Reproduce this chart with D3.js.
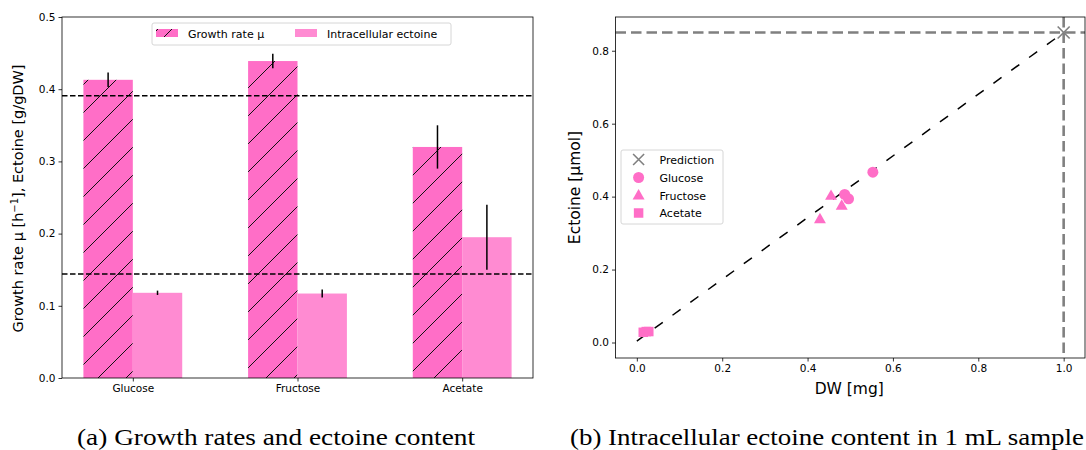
<!DOCTYPE html>
<html>
<head>
<meta charset="utf-8">
<script src="https://cdn.jsdelivr.net/npm/d3@7"></script>
<style>
  body { margin: 0; background: white; }
  svg { display: block; }
  text { font-family: "DejaVu Sans", sans-serif; fill: #000; }
</style>
</head>
<body>
<script>
// data - panel a
const categories = ["Glucose", "Fructose", "Acetate"]
const growthRate = [0.413, 0.439, 0.320]
const growthErr = [0.010, 0.010, 0.030]
const ectoine = [0.118, 0.117, 0.195]
const ectoineErr = [0.003, 0.0055, 0.045]
const refLines = [0.391, 0.144]
const yTicksA = [0.0, 0.1, 0.2, 0.3, 0.4, 0.5]

// data - panel b
const glucoseDW = [0.487, 0.496, 0.553]
const glucoseEct = [0.406, 0.394, 0.467]
const fructoseDW = [0.455, 0.480, 0.429]
const fructoseEct = [0.402, 0.375, 0.338]
const acetateDW = [0.015, 0.022, 0.028]
const acetateEct = [0.028, 0.030, 0.030]
const prediction = [1.0, 0.85]
const fitX = [0.0, 1.0]
const fitY = [0.004, 0.850]
const xTicksB = [0.0, 0.2, 0.4, 0.6, 0.8, 1.0]
const yTicksB = [0.0, 0.2, 0.4, 0.6, 0.8]

const pink = "#ff6ec7"
const pinkLight = "#ff8bd2"

const w = 1086
const h = 450
const svg = d3.select("body").append("svg")
              .attr("width", w)
              .attr("height", h)

// hatch pattern for growth bars
const defs = svg.append("defs")
const hs = 28
const hp = defs.append("pattern")
               .attr("id", "hatch")
               .attr("patternUnits", "userSpaceOnUse")
               .attr("width", hs)
               .attr("height", hs)
hp.append("rect").attr("width", hs).attr("height", hs).attr("fill", pink)
;[[0, hs, hs, 0], [-7, 7, 7, -7], [hs - 7, hs + 7, hs + 7, hs - 7]].forEach(l => {
  hp.append("line")
    .attr("x1", l[0]).attr("y1", l[1]).attr("x2", l[2]).attr("y2", l[3])
    .attr("stroke", "#111").attr("stroke-width", 1)
})
const hpL = defs.append("pattern")
               .attr("id", "hatchLeg")
               .attr("patternUnits", "userSpaceOnUse")
               .attr("width", 14)
               .attr("height", 14)
               .attr("x", 3)
               .attr("y", 2)
hpL.append("rect").attr("width", 14).attr("height", 14).attr("fill", pink)
hpL.append("line").attr("x1", 0).attr("y1", 14).attr("x2", 14).attr("y2", 0)
   .attr("stroke", "#111").attr("stroke-width", 1)

// ---------- panel a ----------
const A = {l: 62, r: 533, t: 17, b: 378}
const xA = d3.scaleLinear().domain([-0.43, 2.43]).range([A.l, A.r])
const yA = d3.scaleLinear().domain([0, 0.5]).range([A.b, A.t])
const bw = 0.3
const ga = svg.append("g")

ga.selectAll("rect.growth")
  .data(growthRate)
  .enter()
  .append("rect")
  .attr("class", "growth")
  .attr("x", (d, i) => xA(i - bw))
  .attr("y", d => yA(d))
  .attr("width", xA(bw) - xA(0))
  .attr("height", d => yA(0) - yA(d))
  .attr("fill", "url(#hatch)")

ga.selectAll("rect.ect")
  .data(ectoine)
  .enter()
  .append("rect")
  .attr("class", "ect")
  .attr("x", (d, i) => xA(i))
  .attr("y", d => yA(d))
  .attr("width", xA(bw) - xA(0))
  .attr("height", d => yA(0) - yA(d))
  .attr("fill", pinkLight)

// error bars
growthRate.forEach((d, i) => {
  ga.append("line")
    .attr("x1", xA(i - bw / 2)).attr("x2", xA(i - bw / 2))
    .attr("y1", yA(d - growthErr[i])).attr("y2", yA(d + growthErr[i]))
    .attr("stroke", "#000").attr("stroke-width", 1.5)
})
ectoine.forEach((d, i) => {
  ga.append("line")
    .attr("x1", xA(i + bw / 2)).attr("x2", xA(i + bw / 2))
    .attr("y1", yA(d - ectoineErr[i])).attr("y2", yA(d + ectoineErr[i]))
    .attr("stroke", "#000").attr("stroke-width", 1.5)
})

// reference lines
refLines.forEach(v => {
  ga.append("line")
    .attr("x1", A.l).attr("x2", A.r)
    .attr("y1", yA(v)).attr("y2", yA(v))
    .attr("stroke", "#000").attr("stroke-width", 1.4)
    .attr("stroke-dasharray", "5.5,2.5")
})

const xAxisA = d3.axisBottom(xA).tickValues([0, 1, 2])
                 .tickFormat(i => categories[i]).tickSizeInner(3.5).tickSizeOuter(0).tickPadding(3)
const yAxisA = d3.axisLeft(yA).tickValues(yTicksA)
                 .tickFormat(d3.format(".1f")).tickSizeInner(3.5).tickSizeOuter(0).tickPadding(3)
ga.append("g").attr("transform", "translate(0," + A.b + ")").call(xAxisA)
ga.append("g").attr("transform", "translate(" + A.l + ",0)").call(yAxisA)
ga.append("rect").attr("x", A.l).attr("y", A.t).attr("width", A.r - A.l).attr("height", A.b - A.t)
  .attr("fill", "none").attr("stroke", "#000").attr("stroke-width", 0.8)

ga.append("text")
  .attr("transform", "translate(23," + ((A.t + A.b) / 2 + 1) + ") rotate(-90)")
  .attr("text-anchor", "middle")
  .attr("font-size", 14.5)
  .html("Growth rate µ [h<tspan dy='-5' font-size='10'>−1</tspan><tspan dy='5'>], Ectoine [g/gDW]</tspan>")

// legend a
const la = ga.append("g")
la.append("rect").attr("x", 152).attr("y", 23).attr("width", 299).attr("height", 22).attr("rx", 2)
  .attr("fill", "white").attr("fill-opacity", 0.8).attr("stroke", "#d6d6d6")
la.append("rect").attr("x", 156).attr("y", 29).attr("width", 22).attr("height", 8).attr("fill", "url(#hatchLeg)")
la.append("text").attr("x", 188).attr("y", 37.5).attr("font-size", 11).text("Growth rate µ")
la.append("rect").attr("x", 295).attr("y", 29).attr("width", 22).attr("height", 8).attr("fill", pinkLight)
la.append("text").attr("x", 327).attr("y", 37.5).attr("font-size", 11).text("Intracellular ectoine")

// ---------- panel b ----------
const B = {l: 615.5, r: 1085, t: 17, b: 358}
const xB = d3.scaleLinear().domain([-0.05, 1.05]).range([B.l, B.r])
const yB = d3.scaleLinear().domain([-0.0425, 0.8925]).range([B.b, B.t])
const gb = svg.append("g")

// prediction guide lines
gb.append("line").attr("x1", B.l).attr("x2", B.r).attr("y1", yB(prediction[1])).attr("y2", yB(prediction[1]))
  .attr("stroke", "#808080").attr("stroke-width", 2.6).attr("stroke-dasharray", "10.5,5")
gb.append("line").attr("x1", xB(prediction[0])).attr("x2", xB(prediction[0])).attr("y1", B.t).attr("y2", B.b)
  .attr("stroke", "#808080").attr("stroke-width", 2.6).attr("stroke-dasharray", "10.5,5")

// fit line
gb.append("line")
  .attr("x1", xB(fitX[0])).attr("y1", yB(fitY[0]))
  .attr("x2", xB(fitX[1])).attr("y2", yB(fitY[1]))
  .attr("stroke", "#000").attr("stroke-width", 1.5).attr("stroke-dasharray", "10,12")

const sym = {
  circle: d3.symbol().type(d3.symbolCircle).size(95),
  tri: d3.symbol().type(d3.symbolTriangle).size(62),
  square: d3.symbol().type(d3.symbolSquare).size(90)
}
const series = [
  {x: glucoseDW, y: glucoseEct, s: sym.circle, dy: 0},
  {x: fructoseDW, y: fructoseEct, s: sym.tri, dy: 0.5},
  {x: acetateDW, y: acetateEct, s: sym.square, dy: 0}
]
series.forEach(sr => {
  gb.selectAll(null)
    .data(sr.x)
    .enter()
    .append("path")
    .attr("d", sr.s)
    .attr("transform", (d, i) => "translate(" + xB(d) + "," + (yB(sr.y[i]) + sr.dy) + ")")
    .attr("fill", pink)
})

// prediction marker
const cross = (g, cx, cy, r) => {
  g.append("path")
   .attr("d", `M${cx - r},${cy - r}L${cx + r},${cy + r}M${cx - r},${cy + r}L${cx + r},${cy - r}`)
   .attr("stroke", "#808080").attr("stroke-width", 1.6).attr("fill", "none")
}
cross(gb, xB(prediction[0]), yB(prediction[1]), 6)

const xAxisB = d3.axisBottom(xB).tickValues(xTicksB)
                 .tickFormat(d3.format(".1f")).tickSizeInner(3.5).tickSizeOuter(0).tickPadding(3)
const yAxisB = d3.axisLeft(yB).tickValues(yTicksB)
                 .tickFormat(d3.format(".1f")).tickSizeInner(3.5).tickSizeOuter(0).tickPadding(3)
gb.append("g").attr("transform", "translate(0," + B.b + ")").call(xAxisB)
gb.append("g").attr("transform", "translate(" + B.l + ",0)").call(yAxisB)
gb.append("rect").attr("x", B.l).attr("y", B.t).attr("width", B.r - B.l).attr("height", B.b - B.t)
  .attr("fill", "none").attr("stroke", "#000").attr("stroke-width", 0.8)

gb.append("text")
  .attr("transform", "translate(580," + ((B.t + B.b) / 2) + ") rotate(-90)")
  .attr("text-anchor", "middle")
  .attr("font-size", 15.5)
  .text("Ectoine [µmol]")
gb.append("text")
  .attr("x", (B.l + B.r) / 2 - 1)
  .attr("y", 394)
  .attr("text-anchor", "middle")
  .attr("font-size", 15.5)
  .text("DW [mg]")

// legend b
const lb = gb.append("g")
lb.append("rect").attr("x", 621).attr("y", 150).attr("width", 102).attr("height", 74).attr("rx", 2)
  .attr("fill", "white").attr("fill-opacity", 0.8).attr("stroke", "#d6d6d6")
const legB = ["Prediction", "Glucose", "Fructose", "Acetate"]
const legY = [159.5, 177.5, 195.5, 213]
cross(lb, 638.6, legY[0], 5.5)
lb.append("path").attr("d", sym.circle).attr("transform", "translate(638.6," + legY[1] + ")").attr("fill", pink)
lb.append("path").attr("d", sym.tri).attr("transform", "translate(638.6," + (legY[2] + 0.5) + ")").attr("fill", pink)
lb.append("path").attr("d", sym.square).attr("transform", "translate(638.6," + legY[3] + ")").attr("fill", pink)
legB.forEach((t, i) => {
  lb.append("text").attr("x", 659.5).attr("y", legY[i] + 4).attr("font-size", 11).text(t)
})

svg.selectAll(".tick text").attr("font-size", 10.5).attr("font-family", "DejaVu Sans").attr("fill", "#000")
svg.selectAll(".domain").remove()
svg.selectAll(".tick line").attr("stroke", "#000").attr("stroke-width", 0.8)

// captions
const caps = [
  {t: "(a) Growth rates and ectoine content", x: 276, wdt: 398},
  {t: "(b) Intracellular ectoine content in 1 mL sample", x: 827, wdt: 514}
]
caps.forEach(c => {
  svg.append("text")
    .attr("x", c.x).attr("y", 445)
    .attr("text-anchor", "middle")
    .style("font-family", "'Liberation Serif', serif")
    .attr("font-size", 23.5)
    .attr("textLength", c.wdt)
    .attr("lengthAdjust", "spacingAndGlyphs")
    .text(c.t)
})
</script>
</body>
</html>
